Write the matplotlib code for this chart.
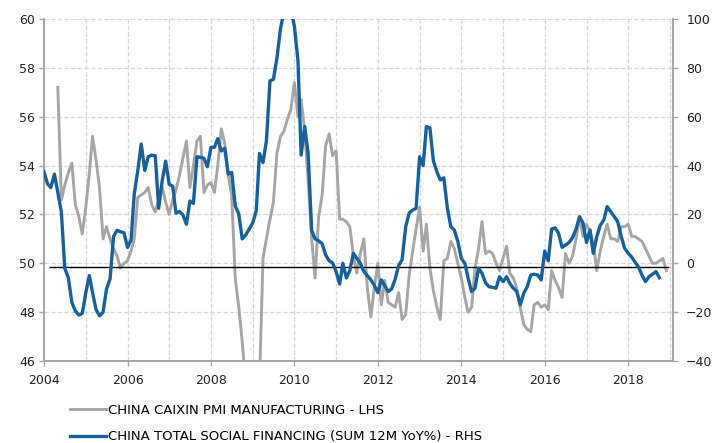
import numpy as np
import pandas as pd
import matplotlib
matplotlib.use('Agg')
from matplotlib import pyplot as plt
import matplotlib.dates as mdates

# China Caixin manufacturing PMI (LHS), monthly from May 2004
pmi = [57.2, 52.6, 53.2, 53.7, 54.1, 52.4, 51.9, 51.2,
       52.3, 53.7, 55.2, 54.2, 53.1, 51.0, 51.5, 51.0, 50.6, 50.3, 49.8, 50.0,
       50.1, 50.5, 51.0, 52.7, 52.8, 52.9, 53.1, 52.4, 52.1, 52.6, 53.1, 52.5,
       52.0, 52.6, 53.0, 53.6, 54.3, 55.0, 53.1, 54.0, 55.0, 55.2, 52.9, 53.2,
       53.3, 52.9, 54.0, 55.5, 54.9, 53.6, 52.8, 49.4, 48.2, 46.8, 45.0, 40.9,
       41.2, 42.2, 45.0, 50.2, 51.0, 51.8, 52.5, 54.5, 55.2, 55.4, 55.9, 56.3,
       57.4, 56.0, 56.7, 55.4, 53.4, 51.0, 49.4, 51.9, 52.8, 54.8, 55.3, 54.4,
       54.6, 51.8, 51.8, 51.7, 51.5, 50.3, 49.6, 50.4, 51.0, 49.0, 47.8, 49.0,
       50.0, 48.3, 49.3, 48.4, 48.3, 48.2, 48.8, 47.7, 47.9, 49.5, 50.5, 51.4,
       52.3, 50.5, 51.6, 49.8, 48.9, 48.2, 47.7, 50.1, 50.2, 50.9, 50.6, 50.0,
       49.4, 48.6, 48.0, 48.2, 49.8, 50.6, 51.7, 50.4, 50.5, 50.4, 50.0, 49.7,
       50.2, 50.7, 49.6, 49.4, 49.0, 48.2, 47.5, 47.3, 47.2, 48.3, 48.4, 48.2,
       48.3, 48.1, 49.7, 49.3, 49.0, 48.6, 50.4, 50.0, 50.3, 51.0, 51.9, 51.1,
       51.6, 51.3, 50.8, 49.7, 50.5, 51.1, 51.6, 51.0, 51.0, 50.9, 51.5, 51.5,
       51.6, 51.1, 51.1, 51.0, 50.9, 50.6, 50.3, 50.0, 50.0, 50.1, 50.2, 49.7]

# China total social financing, sum 12M YoY% (RHS), monthly from Jan 2004
tsf = [37.5, 32.5, 31.0, 36.5, 29.0, 21.0, -2.0, -6.0, -16.0, -19.5, -21.2, -20.5,
       -12.0, -5.0, -12.0, -19.0, -21.5, -20.0, -10.5, -6.5, 11.0, 13.5, 12.9, 12.5,
       6.5, 9.5, 28.3, 38.0, 48.8, 38.0, 43.6, 44.3, 44.0, 22.5, 34.0, 41.8,
       32.3, 31.5, 20.5, 21.2, 19.8, 16.0, 25.5, 24.5, 43.6, 43.4, 43.0, 39.5,
       47.4, 47.5, 51.0, 46.0, 47.1, 36.5, 37.2, 23.5, 20.2, 10.0, 11.6, 14.0,
       16.5, 21.5, 45.0, 41.2, 50.2, 74.7, 75.3, 84.0, 96.0, 103.0, 110.0, 104.0,
       97.0, 83.0, 44.3, 56.0, 45.0, 13.5, 10.0, 9.2, 8.0, 3.5, 1.0, 0.2,
       -3.4, -8.5, 0.0, -6.0, -3.0, 4.1, 2.0, 0.0, -3.4, -5.0, -6.8, -8.9,
       -12.0, -6.8, -9.2, -11.6, -10.5, -6.5, -1.0, 1.5, 15.0, 20.5, 21.8, 22.5,
       43.6, 40.0, 55.9, 55.5, 42.0, 37.5, 34.1, 35.0, 22.5, 15.0, 13.6, 9.0,
       2.0, 0.0, -6.0, -11.6, -10.2, -2.0, -4.1, -8.0, -9.6, -9.8, -10.2, -5.5,
       -7.5, -5.5, -8.2, -10.2, -11.5, -17.0, -12.3, -9.6, -4.8, -4.5, -4.8, -6.8,
       5.0, 1.0, 14.0, 14.5, 12.3, 6.5, 7.5, 8.5, 10.5, 14.0, 19.1, 16.5,
       8.5, 13.6, 4.1, 10.9, 15.5, 17.7, 23.2, 21.1, 19.1, 17.0, 10.9, 6.1,
       4.1, 2.5, 0.5, -1.5, -4.8, -7.5, -5.5, -4.5, -3.4, -5.9]

pmi_dates = pd.date_range('2004-05-01', periods=len(pmi), freq='MS')
tsf_dates = pd.date_range('2004-01-01', periods=len(tsf), freq='MS')

pmi_label = 'CHINA CAIXIN PMI MANUFACTURING - LHS'
tsf_label = 'CHINA TOTAL SOCIAL FINANCING (SUM 12M YoY%) - RHS'

gray = '#A6A6A6'
blue = '#17609A'
spine_col = '#A6A6A6'

plt.rcParams['font.family'] = ['DejaVu Sans']

fig = plt.figure(figsize=(7.26, 4.43), dpi=100)
ax = fig.add_axes([44 / 726, 1 - 361 / 443, 629 / 726, 342 / 443])
ax2 = ax.twinx()

# grid on the left axis
ax.set_ylim(46, 60)
ax.set_yticks(np.arange(46, 61, 2))
ax.xaxis.set_major_locator(mdates.YearLocator(2))
ax.xaxis.set_minor_locator(mdates.YearLocator(1))
ax.xaxis.set_major_formatter(mdates.DateFormatter('%Y'))
ax.grid(True, which='both', axis='x', ls='--', color='#D9D9D9', lw=0.9)
ax.grid(True, which='major', axis='y', ls='--', color='#D9D9D9', lw=0.9)
ax.set_axisbelow(True)

line1, = ax.plot(pmi_dates, pmi, color=gray, lw=2.1, label=pmi_label)

ax2.set_ylim(-40, 100)
ax2.set_yticks(np.arange(-40, 101, 20))
ax2.hlines(-1.5, pd.Timestamp('2004-02-10'), pd.Timestamp('2018-12-20'),
           color='black', lw=1.0, zorder=2)
line2, = ax2.plot(tsf_dates, tsf, color=blue, lw=2.4, label=tsf_label, zorder=3)

ax.set_xlim(pd.Timestamp('2004-01-01'), pd.Timestamp('2019-01-28'))

for a in (ax, ax2):
    a.spines['top'].set_visible(False)
    for s in ('left', 'right', 'bottom'):
        a.spines[s].set_color(spine_col)
        a.spines[s].set_linewidth(1.2)
    a.tick_params(which='both', color=spine_col, labelcolor='#222222',
                  labelsize=9, length=3.5, width=1)
ax.tick_params(axis='x', which='minor', length=0)
ax.tick_params(axis='x', pad=6)
ax.tick_params(axis='y', pad=3)
ax2.tick_params(axis='y', pad=6)

fig.legend(handles=[line1, line2], loc='upper left',
           bbox_to_anchor=(70 / 726, 1 - 404 / 443), frameon=False,
           fontsize=9.5, handlelength=2.7, handletextpad=0.15,
           labelspacing=1.0, borderpad=0, borderaxespad=0)

plt.savefig('out.png', dpi=100)
